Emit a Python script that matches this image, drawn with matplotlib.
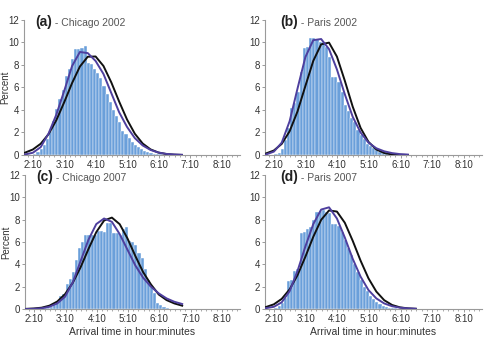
import matplotlib
matplotlib.use("Agg")
import matplotlib.pyplot as plt
import numpy as np

plt.rcParams['font.family'] = ['Liberation Sans', 'DejaVu Sans']

# histogram bins: 6-minute bins starting at 2:10 (hours)
bin_start = 2 + 10 / 60.0
bin_width = 0.1

# bar heights (percent) per panel, first bin starts at 2:10
bars_chi02 = [0.1, 0.25, 0.5, 0.9, 1.4, 2.1, 3.0, 4.1, 5.0, 5.8, 7.0, 7.6, 8.5, 9.4,
              9.4, 9.5, 9.7, 8.2, 8.1, 7.6, 7.3, 6.8, 6.1, 5.4, 4.7, 4.0, 3.5, 2.9,
              2.1, 1.9, 1.5, 1.2, 0.9, 0.7, 0.5, 0.35, 0.25, 0.18, 0.12, 0.08, 0.06,
              0.04, 0.03, 0.02]
bars_par02 = [0.05, 0.2, 0.5, 1.3, 2.4, 4.2, 4.6, 5.6, 7.4, 9.5, 9.6, 10.4, 10.4, 10.3,
              10.0, 10.0, 9.6, 8.7, 6.9, 6.9, 6.5, 5.6, 4.4, 3.9, 3.3, 2.9, 2.2, 1.8,
              1.4, 1.0, 0.8, 0.6, 0.45, 0.3, 0.2, 0.15, 0.1, 0.07, 0.05, 0.03, 0.02]
bars_chi07 = [0.02, 0.03, 0.05, 0.08, 0.12, 0.2, 0.35, 0.6, 1.2, 1.3, 2.2, 2.7, 3.3, 4.4,
              5.5, 6.0, 6.6, 6.6, 6.6, 6.6, 7.0, 7.0, 6.9, 7.7, 7.7, 6.8, 6.8, 6.6,
              7.2, 7.3, 6.1, 6.0, 5.7, 5.0, 4.6, 3.6, 2.6, 2.0, 1.4, 0.5, 0.4, 0.15, 0.05]
bars_par07 = [0.1, 0.25, 0.5, 1.0, 2.5, 2.6, 3.4, 3.6, 6.8, 6.9, 7.2, 7.3, 8.0, 8.7,
              8.8, 8.9, 8.7, 8.6, 7.6, 7.6, 7.4, 6.9, 6.2, 5.5, 4.8, 4.0, 3.3, 2.6,
              2.0, 1.6, 1.2, 0.9, 0.65, 0.45, 0.3, 0.2, 0.13, 0.08, 0.05, 0.03]

# fitted curves read at these times (hours)
curve_t = [1.9, 2.15, 2.4, 2.65, 2.9, 3.15, 3.4, 3.65, 3.9, 4.15, 4.4, 4.65, 4.9,
           5.15, 5.4, 5.65, 5.9, 6.15, 6.4, 6.65, 6.9]

black_chi02 = [0.21, 0.49, 1.0, 1.85, 3.10, 4.69, 6.39, 7.86, 8.73, 8.75, 7.91, 6.45,
               4.75, 3.16, 1.89, 1.02, 0.50, 0.22, 0.09, 0.03, 0.01]
blue_chi02 = [0.05, 0.2, 0.7, 1.9, 3.6, 5.7, 7.9, 9.15, 9.05, 8.35, 7.2, 5.5, 3.8,
              2.5, 1.5, 0.85, 0.45, 0.22, 0.1, 0.05, 0.02]
black_par02 = [0.14, 0.40, 0.99, 2.11, 3.87, 6.13, 8.36, 9.83, 9.98, 8.74, 6.6, 4.3,
               2.41, 1.17, 0.49, 0.18, 0.05, 0.015, 0.004]
blue_par02 = [0.05, 0.3, 1.1, 3.0, 5.9, 8.7, 10.2, 10.3, 9.4, 7.6, 5.4, 3.4, 2.0, 1.1,
              0.6, 0.33, 0.17, 0.08, 0.04]
black_chi07 = [0.015, 0.05, 0.12, 0.30, 0.67, 1.33, 2.36, 3.75, 5.37, 6.88, 7.92, 8.18,
               7.59, 6.31, 4.75, 3.3, 2.2, 1.3, 0.8, 0.5, 0.3]
blue_chi07 = [0.0, 0.02, 0.07, 0.2, 0.5, 1.1, 2.4, 4.3, 6.2, 7.6, 8.1, 7.8, 6.7, 5.3,
              3.9, 2.8, 2.0, 1.4, 0.95, 0.65, 0.45]
black_par07 = [0.18, 0.42, 0.91, 1.76, 3.03, 4.68, 6.46, 7.98, 8.82, 8.72, 7.72, 6.11,
               4.33, 2.75, 1.56, 0.79, 0.36, 0.15, 0.06, 0.02]
blue_par07 = [0.08, 0.2, 0.6, 1.6, 3.4, 5.6, 7.6, 8.9, 9.1, 8.1, 6.4, 4.5, 2.9, 1.7,
              0.95, 0.5, 0.25, 0.12, 0.06, 0.03]

panel_tags = ['(a)', '(b)', '(c)', '(d)']
panel_names = [' - Chicago 2002', ' - Paris 2002', ' - Chicago 2007', ' - Paris 2007']
tick_labels = ['2:10', '3:10', '4:10', '5:10', '6:10', '7:10', '8:10']
y_ticks = [0, 2, 4, 6, 8, 10, 12]

panels = [
    (bars_chi02, black_chi02, blue_chi02),
    (bars_par02, black_par02, blue_par02),
    (bars_chi07, black_chi07, blue_chi07),
    (bars_par07, black_par07, blue_par07),
]

# axes rectangles in figure fraction
rects = [
    [0.048, 0.540, 0.431, 0.401],
    [0.529, 0.540, 0.433, 0.401],
    [0.050, 0.083, 0.429, 0.398],
    [0.529, 0.083, 0.433, 0.398],
]

bar_color = '#6a9fda'
blue_line = '#4e3f9e'
axis_gray = '#9a9a9a'
text_col = '#333333'

fig = plt.figure(figsize=(5.01, 3.37), dpi=100)

for i, (bars, black, blue) in enumerate(panels):
    ax = fig.add_axes(rects[i])
    centers = bin_start + bin_width / 2 + bin_width * np.arange(len(bars))
    ax.bar(centers, bars, width=bin_width, color=bar_color, edgecolor='white',
           linewidth=0.3, zorder=1)
    ax.plot(curve_t[:len(black)], black, color='#111111', lw=1.4, zorder=3)
    ax.plot(curve_t[:len(blue)], blue, color=blue_line, lw=1.4, zorder=4)

    ax.set_xlim(1.87, 8.75)
    ax.set_ylim(0, 12)
    major = bin_start + np.arange(len(tick_labels))
    ax.set_xticks(major)
    ax.set_xticklabels(tick_labels)
    ax.set_xticks(bin_start + np.arange(-1, 40) / 6.0, minor=True)
    ax.set_yticks(y_ticks)

    for s in ['top', 'right']:
        ax.spines[s].set_visible(False)
    for s in ['left', 'bottom']:
        ax.spines[s].set_color(axis_gray)
        ax.spines[s].set_linewidth(0.8)
    ax.tick_params(axis='both', which='major', labelsize=7, colors=axis_gray,
                   labelcolor=text_col, length=2, width=0.7, pad=1.5)
    ax.tick_params(axis='x', which='minor', length=1.5, width=0.6, colors=axis_gray)

    tag = ax.text(0.05 if i % 2 == 0 else 0.068, 0.985, panel_tags[i],
                  transform=ax.transAxes, fontsize=10, fontweight='bold',
                  color='#222222', va='center', ha='left')
    ax.annotate(panel_names[i], xy=(1.0, 0.45), xycoords=tag, va='center', ha='left',
                fontsize=7.5, color='#555555')

    if i % 2 == 0:
        ax.set_ylabel('Percent', fontsize=7, color=text_col)
        ax.yaxis.set_label_coords(-0.062, 0.5)
    if i >= 2:
        ax.set_xlabel('Arrival time in hour:minutes', fontsize=7.5, color=text_col,
                      labelpad=2)

fig.savefig('out.png', dpi=100)
